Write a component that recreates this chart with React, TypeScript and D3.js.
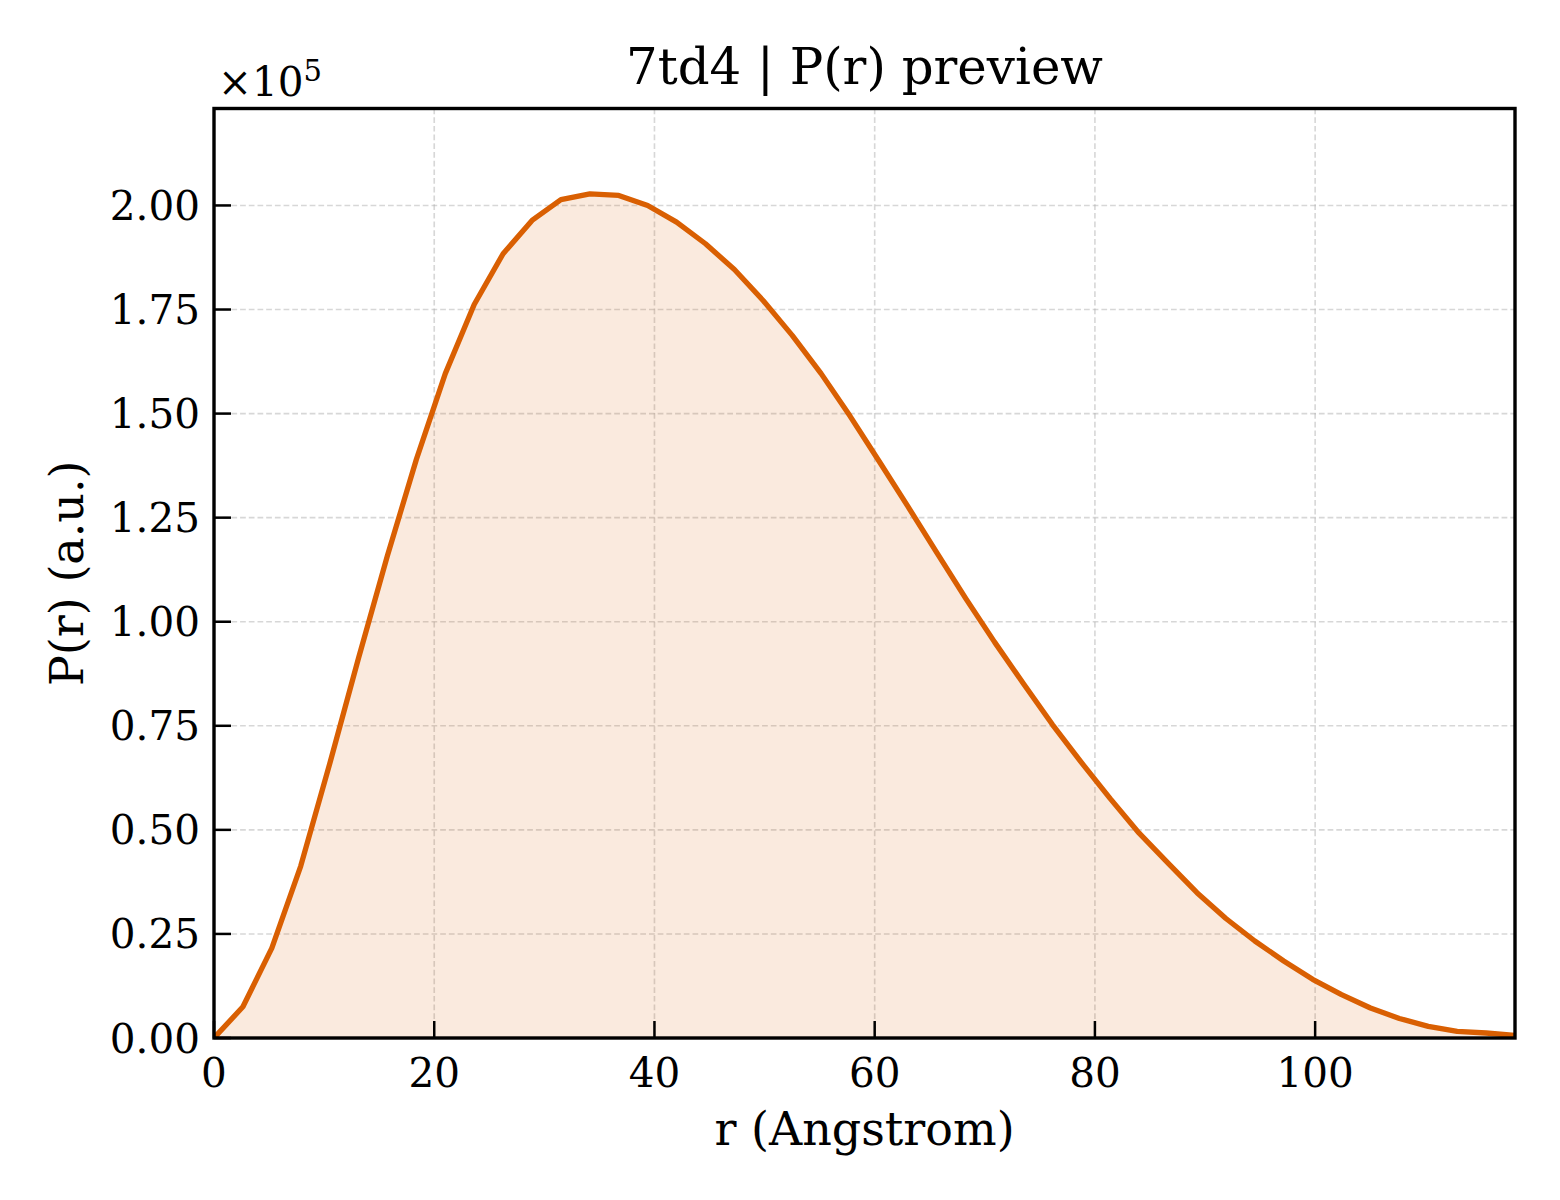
import React from "react";
import * as d3 from "d3";

const rMax = 118.15;
const nPoints = 46;
const pr: number[] = [
  0, 0.075, 0.216, 0.413, 0.658, 0.913, 1.159, 1.39, 1.596, 1.762,
  1.884, 1.964, 2.014, 2.028, 2.024, 2.0, 1.96, 1.908, 1.846, 1.771,
  1.688, 1.596, 1.494, 1.386, 1.277, 1.166, 1.056, 0.951, 0.851, 0.753,
  0.662, 0.575, 0.492, 0.42, 0.349, 0.287, 0.233, 0.185, 0.141, 0.104,
  0.072, 0.047, 0.028, 0.016, 0.012, 0.006,
];
const xTicks = [0, 20, 40, 60, 80, 100];
const yTicks = [0, 0.25, 0.5, 0.75, 1.0, 1.25, 1.5, 1.75, 2.0];
const title = "7td4 | P(r) preview";
const xLabel = "r (Angstrom)";
const yLabel = "P(r) (a.u.)";

const W = 1560;
const H = 1200;
const L = 214;
const R = 1515;
const T = 108.5;
const B = 1038;
const FONT = "'DejaVu Serif', serif";
const COLOR = "#d95f02";

export default function App() {
  const data = pr.map((v, i) => ({ r: (i * rMax) / (nPoints - 1), v }));
  const x = d3.scaleLinear().domain([0, rMax]).range([L, R]);
  const y = d3.scaleLinear().domain([0, 2.2329]).range([B, T]);
  const line = d3
    .line<{ r: number; v: number }>()
    .x((d) => x(d.r))
    .y((d) => y(d.v));
  const area = d3
    .area<{ r: number; v: number }>()
    .x((d) => x(d.r))
    .y0(y(0))
    .y1((d) => y(d.v));

  return (
    <svg
      width={W}
      height={H}
      viewBox={`0 0 ${W} ${H}`}
      style={{ position: "absolute", left: 0, top: 0, background: "#fff" }}
      fontFamily={FONT}
    >
      <rect x={0} y={0} width={W} height={H} fill="#fff" />
      <defs>
        <clipPath id="plotclip">
          <rect x={L} y={T} width={R - L} height={B - T} />
        </clipPath>
      </defs>
      {/* grid */}
      <g stroke="#b0b0b0" strokeOpacity={0.5} strokeWidth={1.6} strokeDasharray="5.7,3">
        {xTicks.map((t) => (
          <line key={"gx" + t} x1={x(t)} x2={x(t)} y1={T} y2={B} />
        ))}
        {yTicks.map((t) => (
          <line key={"gy" + t} x1={L} x2={R} y1={y(t)} y2={y(t)} />
        ))}
      </g>
      <g clipPath="url(#plotclip)">
        <path d={area(data) || ""} fill={COLOR} fillOpacity={0.13} />
        <path
          d={line(data) || ""}
          fill="none"
          stroke={COLOR}
          strokeWidth={5.3}
          strokeLinejoin="round"
          strokeLinecap="square"
        />
      </g>
      {/* ticks */}
      <g stroke="#000" strokeWidth={2.5}>
        {xTicks.map((t) => (
          <line key={"tx" + t} x1={x(t)} x2={x(t)} y1={B} y2={B - 17} />
        ))}
        {yTicks.map((t) => (
          <line key={"ty" + t} x1={L} x2={L + 17} y1={y(t)} y2={y(t)} />
        ))}
      </g>
      {/* frame */}
      <rect x={L} y={T} width={R - L} height={B - T} fill="none" stroke="#000" strokeWidth={3.4} />
      {/* tick labels */}
      <g fontSize={40.5} fill="#000">
        {xTicks.map((t) => (
          <text key={"lx" + t} x={x(t)} y={B + 49} textAnchor="middle">
            {String(t)}
          </text>
        ))}
        {yTicks.map((t) => (
          <text key={"ly" + t} x={L - 14} y={y(t) + 14.5} textAnchor="end">
            {t.toFixed(2)}
          </text>
        ))}
      </g>
      {/* offset text */}
      <text x={218} y={95.5} fontSize={40.5} fill="#000">
        ×10
        <tspan fontSize={29} dy={-14.5}>5</tspan>
      </text>
      {/* title */}
      <text x={(L + R) / 2} y={84} fontSize={49.8} textAnchor="middle" fill="#000">
        {title}
      </text>
      {/* axis labels */}
      <text x={(L + R) / 2} y={1145} fontSize={46} textAnchor="middle" fill="#000">
        {xLabel}
      </text>
      <text
        transform={`translate(${83},${(T + B) / 2}) rotate(-90)`}
        fontSize={46}
        textAnchor="middle"
        fill="#000"
      >
        {yLabel}
      </text>
    </svg>
  );
}
